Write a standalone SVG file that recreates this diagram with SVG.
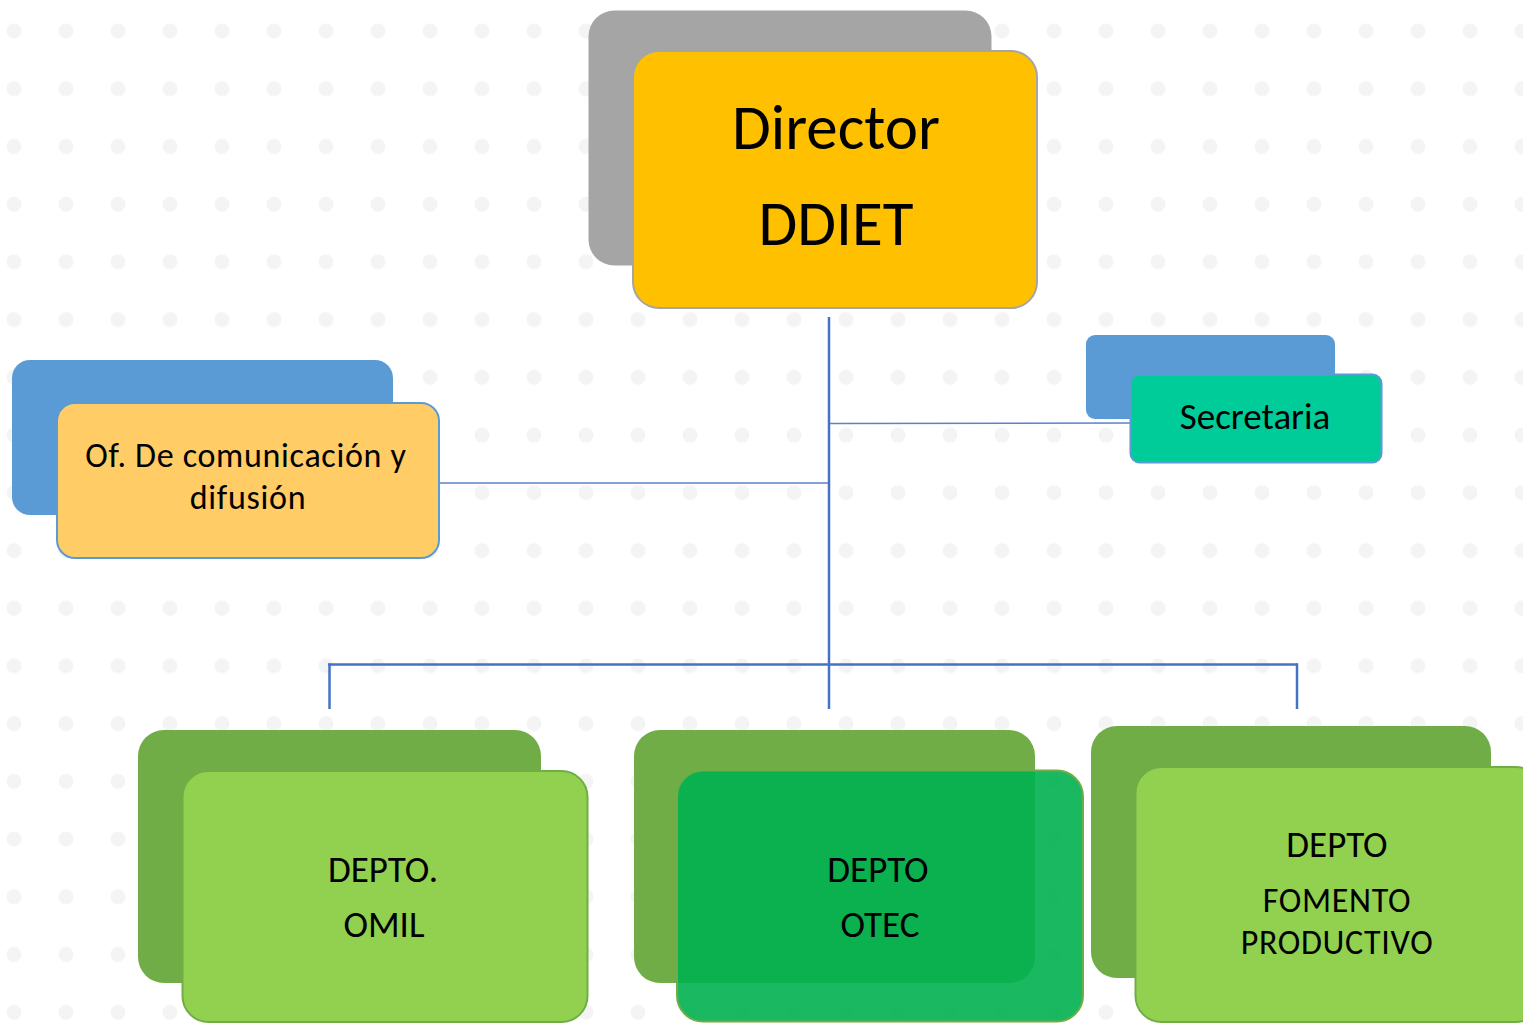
<svg xmlns="http://www.w3.org/2000/svg" width="1523" height="1023" viewBox="0 0 1523 1023">
  <defs>
    <pattern id="dots" patternUnits="userSpaceOnUse" x="0" y="0" width="52" height="57.72">
      <circle cx="14" cy="31" r="7.5" fill="#f4f4f4"/>
    </pattern>
  </defs>
  <style>
    text { font-family: Carlito, Lato, "Liberation Sans", sans-serif; fill: #000; text-anchor: middle; }
    .back { stroke: none; }
    .conn { fill: none; stroke: #4472c4; stroke-linecap: butt; }
    .main { stroke-width: 2.5; }
    .thin { stroke-width: 1.5; stroke: #5b82cc; }
    .g-back { fill: #70ad47; }
    .g-front { fill: #92d050; stroke: #70ad47; stroke-width: 2; }
    .t32 { font-size: 37px; }
    .t35 { font-size: 34px; letter-spacing: 0.7px; }
    .big { font-size: 63px; }
  </style>
  <rect x="0" y="0" width="1523" height="1023" fill="#ffffff"/>
  <rect x="0" y="0" width="1523" height="1023" fill="url(#dots)"/>

  <g id="connectors">
    <line class="conn main" x1="829" y1="317" x2="829" y2="709"/>
    <line class="conn main" x1="328" y1="664.5" x2="1298" y2="664.5"/>
    <line class="conn main" x1="329.5" y1="663.5" x2="329.5" y2="709"/>
    <line class="conn main" x1="1297" y1="663.5" x2="1297" y2="709"/>
    <line class="conn thin" x1="440" y1="483" x2="828" y2="483"/>
    <line class="conn thin" x1="830" y1="423.5" x2="1131" y2="423"/>
  </g>

  <g id="director">
    <rect class="back" x="588.5" y="10.5" width="403" height="255" rx="26" fill="#a5a5a5"/>
    <rect x="633" y="51" width="404" height="257" rx="26" fill="#ffc000" stroke="#a5a5a5" stroke-width="2"/>
    <text class="big" x="836" y="149">Director</text>
    <text class="big" x="836" y="245">DDIET</text>
  </g>

  <g id="comunicacion">
    <rect class="back" x="12" y="360" width="381" height="155" rx="18" fill="#5b9bd5"/>
    <rect x="57" y="403" width="382" height="155" rx="18" fill="#ffcc66" stroke="#5b9bd5" stroke-width="2"/>
    <text class="t35" x="246" y="467">Of. De comunicación y</text>
    <text class="t35" x="248" y="509">difusión</text>
  </g>

  <g id="secretaria">
    <rect class="back" x="1086" y="335" width="249" height="84" rx="9" fill="#5b9bd5"/>
    <rect x="1130.5" y="374.5" width="251" height="88" rx="9" fill="#00cc99" stroke="#5b9bd5" stroke-width="2"/>
    <text class="t32" x="1255" y="429">Secretaria</text>
  </g>

  <g id="omil">
    <rect class="back g-back" x="138" y="730" width="403" height="253" rx="26"/>
    <rect class="g-front" x="182.5" y="771" width="405" height="251" rx="26"/>
    <text class="t32" x="383" y="882">DEPTO.</text>
    <text class="t32" x="384" y="937">OMIL</text>
  </g>

  <g id="otec">
    <rect class="back g-back" x="634" y="730" width="401" height="253" rx="26"/>
    <rect x="677" y="770.5" width="406" height="251" rx="26" fill="#00b050" fill-opacity="0.9" stroke="#70ad47" stroke-width="2"/>
    <text class="t32" x="878" y="882">DEPTO</text>
    <text class="t32" x="880" y="937">OTEC</text>
  </g>

  <g id="fomento">
    <rect class="back g-back" x="1091" y="726" width="400" height="252" rx="26"/>
    <rect class="g-front" x="1135.5" y="767" width="406" height="255" rx="26"/>
    <text class="t32" x="1337" y="857">DEPTO</text>
    <text class="t35" x="1337" y="912">FOMENTO</text>
    <text class="t35" x="1337" y="954">PRODUCTIVO</text>
  </g>
</svg>
